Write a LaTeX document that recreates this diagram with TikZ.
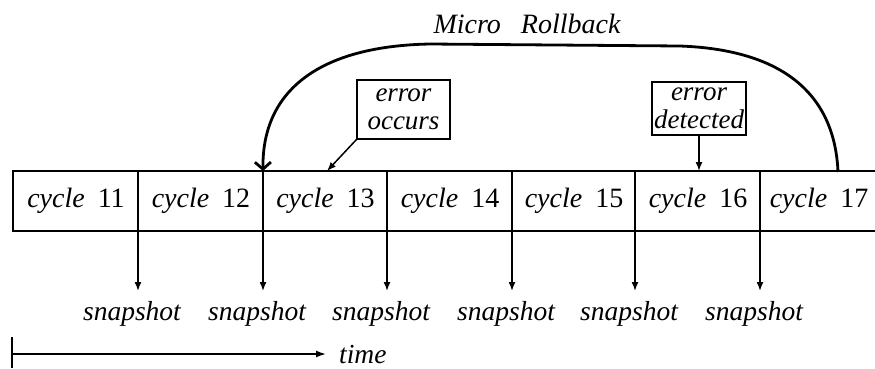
\documentclass[tikz,border=0pt]{standalone}
\usepackage{fontspec}
\setmainfont{Liberation Serif}
\usetikzlibrary{arrows.meta}

\tikzset{
  lbl/.style={font=\fontsize{27.5}{27.5}\selectfont\itshape, inner sep=0pt},
  cell/.style={font=\fontsize{28}{28}\selectfont, inner sep=0pt, anchor=center},
  notebox/.style={draw, line width=1.4pt, inner sep=0pt, align=center,
    font=\fontsize{27}{27.5}\selectfont\itshape},
  thinline/.style={line width=1.5pt},
  snaparrow/.style={line width=1.5pt, -{Latex[length=9pt,width=7pt]}},
  rollback/.style={line width=2.8pt, -{Straight Barb[length=7pt,width=16pt,line width=2.8pt]}},
}

\newcommand{\cyc}[1]{\textit{cycle}\hspace{13pt}#1}

\begin{document}
\begin{tikzpicture}[x=1pt,y=-1pt]
  \useasboundingbox (0,0) rectangle (875,368);

  % the row of cycles
  \coordinate (tl) at (13,171);
  \coordinate (bl) at (13,231);
  \coordinate (tr) at (875,171);
  \coordinate (br) at (875,231);
  \draw[thinline] (tr) -- (tl) -- (bl) -- (br);

  \foreach \x [count=\i] in {138,263,387,512,635,760} {
    \coordinate (d\i) at (\x,171);
    \coordinate (s\i) at (\x,231);
    \coordinate (e\i) at (\x,291);
    \draw[thinline] (d\i) -- (s\i);
    \draw[snaparrow] (s\i) -- (e\i);
    \node[lbl] (snap\i) at (\x-6,314) {snapshot};
  }

  \node[cell] (c11) at (76,201) {\cyc{11}};
  \node[cell] (c12) at (201,201) {\cyc{12}};
  \node[cell] (c13) at (325.5,201) {\cyc{13}};
  \node[cell] (c14) at (450,201) {\cyc{14}};
  \node[cell] (c15) at (574,201) {\cyc{15}};
  \node[cell] (c16) at (698,201) {\cyc{16}};
  \node[cell] (c17) at (819,201) {\cyc{17}};

  % error notes
  \node[notebox, minimum width=93pt, minimum height=59pt] (occ) at (403.5,109.5) {error\\occurs};
  \coordinate (occtip) at (327,171);
  \draw[snaparrow] (occ.south west) -- (occtip);

  \node[notebox, minimum width=94pt, minimum height=53pt] (det) at (699,108.5) {error\\detected};
  \coordinate (dettip) at (699,171);
  \draw[snaparrow] (det.south) -- (dettip);

  % micro rollback arc
  \coordinate (rbstart) at (838,172);
  \coordinate (rbend) at (263,171);
  \draw[rollback] (rbstart) .. controls (835,100) and (790,50) .. (680,46)
    -- (430,44) .. controls (320,46) and (262,90) .. (rbend);
  \node[font=\fontsize{28}{28}\selectfont\itshape, inner sep=0pt] (mr) at (527,24)
    {Micro\hspace{20pt}Rollback};

  % time axis
  \coordinate (t0) at (12,354);
  \coordinate (t1) at (326,354);
  \draw[thinline] (12,337) -- (12,368);
  \draw[line width=1.5pt, -{Latex[length=10pt,width=7pt]}] (t0) -- (t1);
  \node[lbl, anchor=base west] (time) at (339,363) {time};
\end{tikzpicture}
\end{document}
